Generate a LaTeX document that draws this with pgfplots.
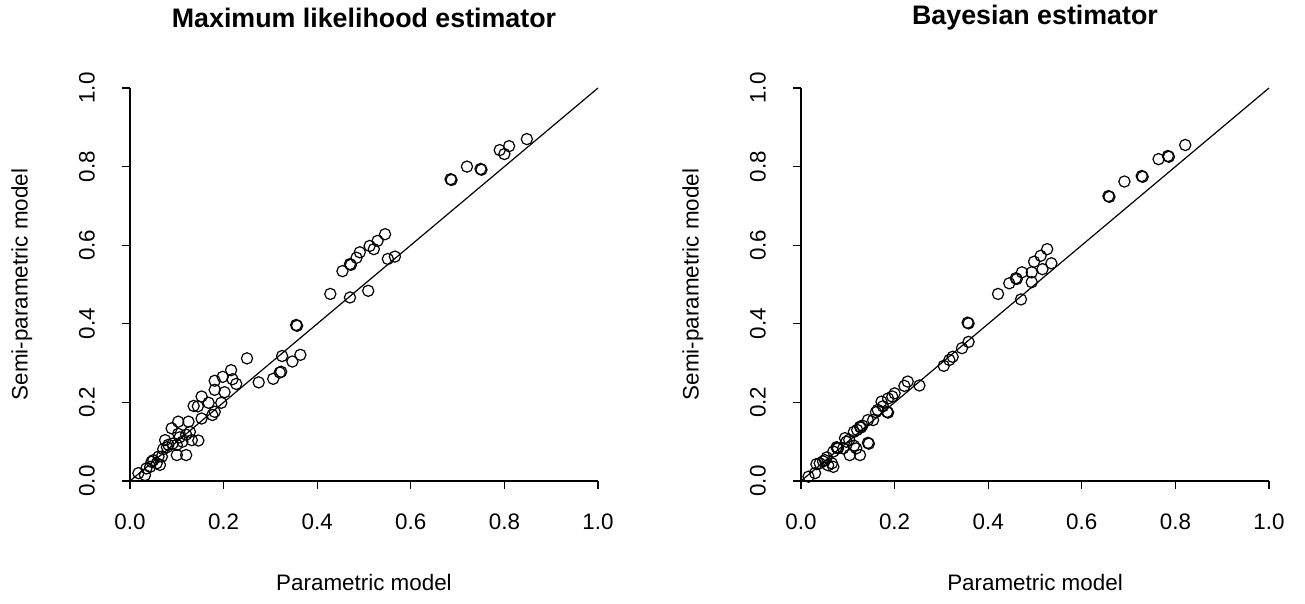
\documentclass[border=0pt]{standalone}
\usepackage{fontspec}
\setmainfont{Liberation Sans}
\usepackage{pgfplots}
\usepackage{pgfplotstable}
\pgfplotsset{compat=1.18}

% Maximum likelihood: parametric vs semi-parametric
\pgfplotstableread{
x y
0.018 0.020
0.032 0.015
0.035 0.032
0.043 0.036
0.050 0.053
0.046 0.049
0.057 0.045
0.064 0.041
0.061 0.062
0.068 0.062
0.071 0.081
0.075 0.104
0.082 0.092
0.079 0.086
0.089 0.134
0.091 0.095
0.100 0.092
0.100 0.066
0.103 0.120
0.106 0.111
0.112 0.100
0.120 0.066
0.103 0.151
0.125 0.151
0.132 0.104
0.146 0.103
0.120 0.118
0.128 0.125
0.136 0.191
0.145 0.190
0.153 0.215
0.153 0.159
0.168 0.199
0.176 0.168
0.181 0.176
0.195 0.199
0.181 0.232
0.181 0.255
0.198 0.265
0.202 0.226
0.216 0.282
0.219 0.259
0.227 0.247
0.250 0.312
0.275 0.251
0.306 0.260
0.320 0.276
0.323 0.278
0.325 0.318
0.347 0.304
0.364 0.321
0.355 0.397
0.357 0.395
0.428 0.476
0.454 0.534
0.470 0.552
0.472 0.550
0.470 0.467
0.484 0.568
0.491 0.582
0.509 0.484
0.512 0.598
0.521 0.590
0.529 0.611
0.545 0.628
0.551 0.565
0.566 0.571
0.685 0.768
0.687 0.766
0.720 0.800
0.749 0.794
0.751 0.792
0.790 0.842
0.800 0.832
0.810 0.852
0.848 0.870
}\mlpts

% Bayesian: parametric vs semi-parametric
\pgfplotstableread{
x y
0.016 0.011
0.030 0.020
0.033 0.043
0.040 0.045
0.047 0.050
0.051 0.053
0.055 0.060
0.058 0.040
0.069 0.036
0.066 0.045
0.069 0.075
0.076 0.086
0.078 0.084
0.079 0.083
0.090 0.083
0.094 0.109
0.097 0.100
0.104 0.066
0.126 0.066
0.118 0.083
0.113 0.090
0.103 0.105
0.113 0.125
0.120 0.130
0.126 0.138
0.128 0.136
0.131 0.141
0.143 0.097
0.145 0.095
0.143 0.155
0.154 0.155
0.160 0.175
0.164 0.181
0.172 0.202
0.175 0.190
0.186 0.174
0.184 0.176
0.186 0.210
0.195 0.215
0.200 0.223
0.221 0.242
0.228 0.253
0.253 0.243
0.305 0.293
0.317 0.308
0.324 0.316
0.344 0.338
0.358 0.354
0.356 0.403
0.358 0.401
0.421 0.476
0.445 0.503
0.459 0.516
0.461 0.514
0.470 0.462
0.472 0.531
0.493 0.506
0.493 0.531
0.498 0.558
0.512 0.573
0.516 0.539
0.526 0.590
0.535 0.554
0.657 0.725
0.659 0.723
0.691 0.762
0.728 0.776
0.730 0.774
0.764 0.819
0.784 0.827
0.786 0.825
0.821 0.855
}\bayespts

\pgfplotsset{
  panel/.style={
    width=234pt, height=196.5pt, scale only axis,
    xmin=0, xmax=1, ymin=0, ymax=1,
    clip=false,
    axis lines=left,
    axis line style={-, line width=0.6pt},
    tick align=outside,
    major tick length=4pt,
    every tick/.style={black, line width=0.6pt},
    xtick={0,0.2,0.4,0.6,0.8,1},
    ytick={0,0.2,0.4,0.6,0.8,1},
    font=\fontsize{11.2}{13}\selectfont,
    /pgf/number format/assume math mode=true,
    /pgf/number format/.cd, fixed, fixed zerofill, precision=1, /pgfplots/.cd,
    xticklabel style={anchor=center, inner sep=0pt, yshift=-16.5pt},
    yticklabel style={xshift=-17.5pt, rotate=90, anchor=center, inner sep=0pt},
    every axis title/.style={at={(axis description cs:0.5,1.178)},
      anchor=center, inner sep=0pt,
      font=\fontsize{13.4}{15}\selectfont\bfseries},
    xlabel style={at={(axis description cs:0.5,-0.257)}, anchor=center},
    ylabel style={at={(axis description cs:-0.231,0.5)}, anchor=center},
    xlabel={Parametric model},
    ylabel={Semi-parametric model},
  },
  pts/.style={only marks, mark=o, mark size=2.8pt,
    mark options={line width=0.6pt, black}},
}

\begin{document}
\begin{tikzpicture}
\useasboundingbox (-65pt,-61.5pt) rectangle (587.5pt,240.5pt);
\begin{axis}[panel, at={(0pt,0pt)}, anchor=south west,
  title={Maximum likelihood estimator}]
  \addplot[black, line width=0.6pt] coordinates {(0,0) (1,1)};
  \addplot[pts] table[x=x, y=y] {\mlpts};
\end{axis}
\begin{axis}[panel, at={(335.5pt,0pt)}, anchor=south west,
  title={Bayesian estimator}]
  \addplot[black, line width=0.6pt] coordinates {(0,0) (1,1)};
  \addplot[pts] table[x=x, y=y] {\bayespts};
\end{axis}
\end{tikzpicture}
\end{document}
